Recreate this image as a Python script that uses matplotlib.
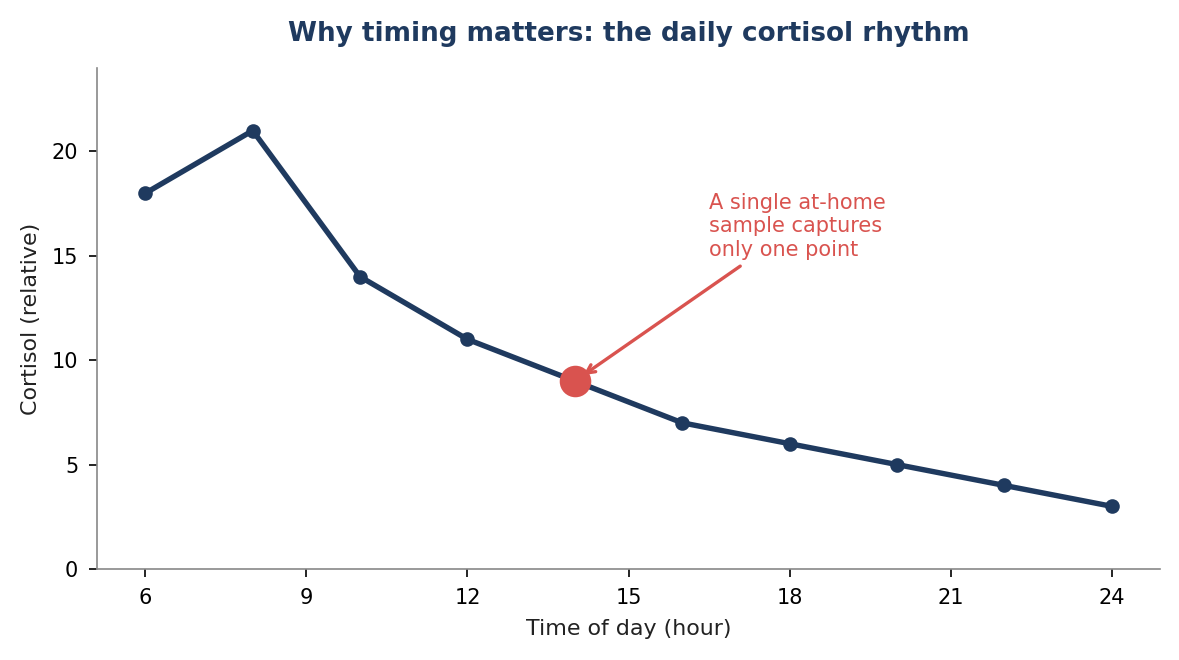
import numpy as np
import matplotlib
matplotlib.use('Agg')
import matplotlib.pyplot as plt

hours=[6,8,10,12,14,16,18,20,22,24]
cortisol=[18,21,14,11,9,7,6,5,4,3]
sample_hour=14
sample_value=9
xtick_vals=[6,9,12,15,18,21,24]
ytick_vals=[0,5,10,15,20]

navy='#1f3a5f'
red='#d9534f'

fig,ax=plt.subplots(figsize=(7.86,4.4),dpi=150)
fig.subplots_adjust(left=0.0823,right=0.9839,bottom=0.138,top=0.897)
ax.plot(hours,cortisol,'o-',color=navy,linewidth=2.6,markersize=6,zorder=2)
ax.scatter([sample_hour],[sample_value],s=200,color=red,zorder=3)
ax.annotate('A single at-home\nsample captures\nonly one point',
            xy=(sample_hour,sample_value),xytext=(16.5,14.82),
            ha='left',va='bottom',fontsize=10,color=red,
            arrowprops=dict(arrowstyle='->',color=red,lw=1.6,shrinkB=5))

ax.set_ylim(0,24)
ax.set_xticks(xtick_vals)
ax.set_yticks(ytick_vals)
ax.spines['top'].set_visible(False)
ax.spines['right'].set_visible(False)
ax.spines['left'].set_color('#888888')
ax.spines['bottom'].set_color('#888888')
ax.tick_params(labelsize=10,length=4,pad=5)
ax.set_xlabel('Time of day (hour)',fontsize=10.6,color='#222222',labelpad=5.5)
ax.set_ylabel('Cortisol (relative)',fontsize=10.6,color='#222222',labelpad=5)
ax.set_title('Why timing matters: the daily cortisol rhythm',fontsize=12.6,fontweight='bold',color=navy,pad=13)
plt.savefig('out.png',dpi=150)
